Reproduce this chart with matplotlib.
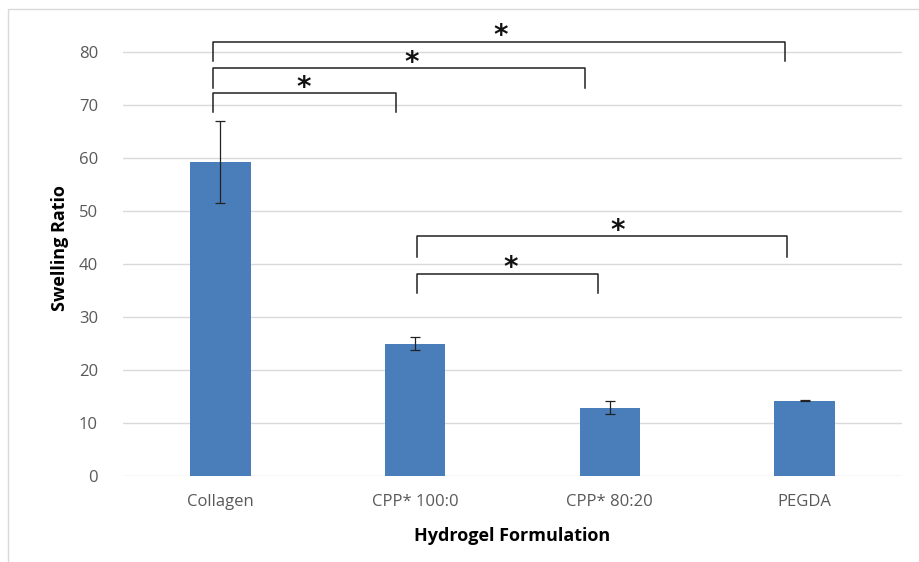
import matplotlib.pyplot as plt
from matplotlib.patches import Rectangle

categories = ["Collagen", "CPP* 100:0", "CPP* 80:20", "PEGDA"]
swelling = [59.2, 25.0, 12.9, 14.2]
errors = [7.7, 1.3, 1.2, 0.05]

# significance brackets: (left, right, top height, leg length)
brackets = [
    (-0.04, 0.90, 72.2, 3.6),
    (-0.04, 1.87, 76.9, 3.6),
    (-0.04, 2.90, 81.9, 3.6),
    (1.01, 2.91, 45.2, 3.8),
    (1.01, 1.94, 38.2, 3.6),
]
star_x = [0.43, 0.98, 1.44, 2.04, 1.49]

plt.rcParams['font.family'] = ['Open Sans', 'DejaVu Sans']

fig = plt.figure(figsize=(9.2, 5.62), dpi=100)
fig.patches.append(Rectangle((8 / 920, -0.1), 1.2, 1 - 9 / 562 + 0.1,
                             transform=fig.transFigure, fill=False,
                             edgecolor="#d9d9d9", linewidth=1))
ax = fig.add_axes([0.1337, 0.153, 0.8467, 0.811])

x = range(len(categories))
ax.bar(x, swelling, width=0.31, color="#4a7ebb", zorder=2)
ax.errorbar(x, swelling, yerr=errors, fmt="none", ecolor="#222222",
            elinewidth=0.9, capsize=3.5, capthick=0.9, zorder=3)

for (a, b, top, leg), sx in zip(brackets, star_x):
    ax.plot([a, a, b, b], [top - leg, top, top, top - leg],
            color="#222222", linewidth=1.1, clip_on=False, zorder=4)
    ax.text(sx, top - 1.6, "*", ha="center", va="bottom", fontsize=20,
            fontweight="bold", family="DejaVu Sans", color="#111111",
            clip_on=False)

ax.set_xlim(-0.5, 3.5)
ax.set_ylim(0, 86)
ax.set_yticks(range(0, 81, 10))
ax.set_xticks(list(x))
ax.set_xticklabels(categories)
ax.grid(axis="y", color="#d9d9d9", linewidth=1, zorder=0)
for s in ax.spines.values():
    s.set_visible(False)
ax.tick_params(length=0, colors="#595959", labelsize=12, pad=13)
ax.tick_params(axis="y", pad=18)

ax.set_ylabel("Swelling Ratio", fontsize=13, fontweight="bold", labelpad=7)
ax.set_xlabel("Hydrogel Formulation", fontsize=13, fontweight="bold", labelpad=12)

fig.savefig("out.png", dpi=100)
